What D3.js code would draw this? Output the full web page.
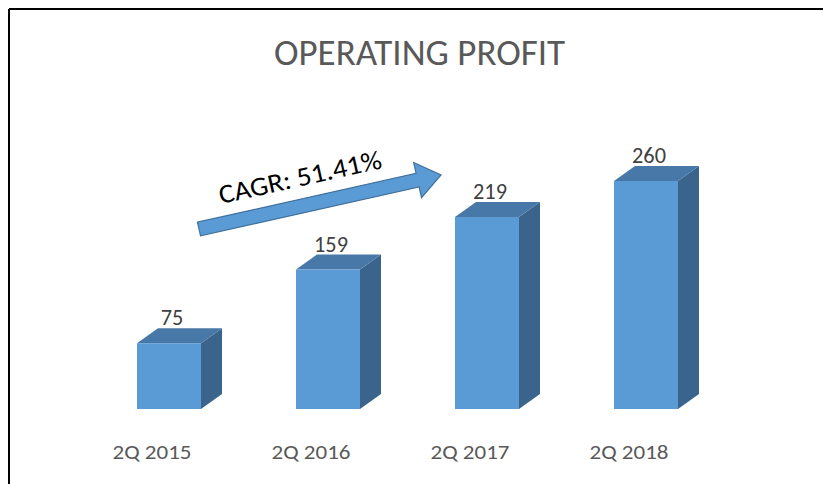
<!DOCTYPE html>
<html><head><meta charset="utf-8">
<script src="https://cdn.jsdelivr.net/npm/d3@7"></script>
<style>
html,body{margin:0;padding:0;background:#fff;}
svg{display:block;}
text{font-family:Carlito,Calibri,Lato,"Open Sans",sans-serif;}
</style></head>
<body>
<script>
const categories = ["2Q 2015","2Q 2016","2Q 2017","2Q 2018"];
const values = [75,159,219,260];
const title = "OPERATING PROFIT";
const annotation = "CAGR: 51.41%";

const W = 823, H = 484;
const svg = d3.select("body").append("svg").attr("width", W).attr("height", H);

// frame lines
svg.append("line").attr("x1",9).attr("y1",9).attr("x2",W).attr("y2",9).attr("stroke","#000").attr("stroke-width",2);
svg.append("line").attr("x1",9).attr("y1",9).attr("x2",9).attr("y2",H).attr("stroke","#000").attr("stroke-width",2);

svg.append("text").attr("x",419.5).attr("y",65).attr("text-anchor","middle")
  .attr("font-size",36).attr("fill","#595959").attr("textLength",291).attr("lengthAdjust","spacingAndGlyphs").text(title);

const x = d3.scalePoint().domain(categories).range([152,629]);
const y = d3.scaleLinear().domain([0,260]).range([409,181]);
const bw = 64, off = -15, dx = 21, dy = -15;

const g = svg.append("g");
categories.forEach((c,i)=>{
  const x0 = x(c)+off, x1 = x0+bw, yt = y(values[i]), yb = y(0);
  g.append("path").attr("d",`M${x1},${yt}L${x1+dx},${yt+dy}L${x1+dx},${yb+dy}L${x1},${yb}Z`).attr("fill","#3b648c");
  g.append("path").attr("d",`M${x0},${yt}L${x0+dx},${yt+dy}L${x1+dx},${yt+dy}L${x1},${yt}Z`).attr("fill","#4878a8");
  g.append("rect").attr("x",x0).attr("y",yt).attr("width",bw).attr("height",yb-yt).attr("fill","#5b9bd5");
  const lbl = String(values[i]);
  g.append("text").attr("x",x0+bw/2+3).attr("y",yt+dy-3).attr("text-anchor","middle")
    .attr("font-size",22).attr("fill","#404040")
    .attr("textLength",lbl.length*11.3).attr("lengthAdjust","spacingAndGlyphs").text(lbl);
  g.append("text").attr("x",x(c)).attr("y",459).attr("text-anchor","middle")
    .attr("font-size",21).attr("fill","#595959").attr("textLength",79).attr("lengthAdjust","spacingAndGlyphs").text(c);
});

// CAGR arrow (block arrow), rotated
const ang = -12.6 * Math.PI / 180;
const L = 248, sw = 14, hw = 36, hl = 24;
const local = [[0,-sw/2],[L-hl,-sw/2],[L-hl,-hw/2],[L,0],[L-hl,hw/2],[L-hl,sw/2],[0,sw/2]];
const pts = local.map(([u,v]) => [199 + u*Math.cos(ang) - v*Math.sin(ang), 229 + u*Math.sin(ang) + v*Math.cos(ang)]);
svg.append("polygon").attr("points", pts.map(p => p.join(",")).join(" "))
  .attr("fill","#5b9bd5").attr("stroke","#41719c").attr("stroke-width",1.2).attr("stroke-linejoin","miter");
svg.append("text").attr("transform",`translate(302,186) rotate(-12.6)`).attr("text-anchor","middle")
  .attr("font-size",27).attr("fill","#000").attr("textLength",166).attr("lengthAdjust","spacingAndGlyphs").text(annotation);
</script>
</body></html>
